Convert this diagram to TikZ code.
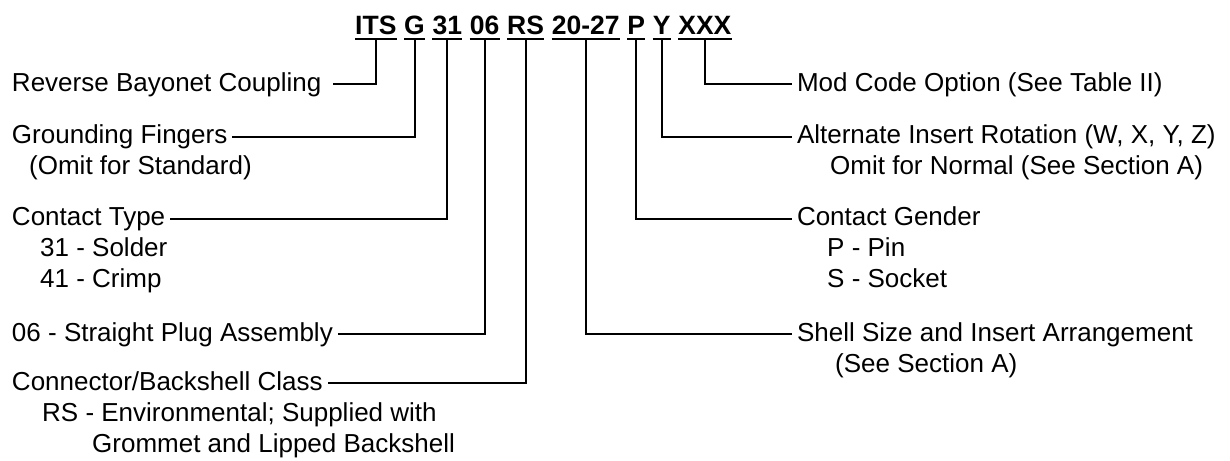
\documentclass[tikz,border=0pt]{standalone}
\usepackage{fontspec}
\setmainfont{Liberation Sans}
\usetikzlibrary{positioning}
\tikzset{
  code/.style={font=\fontsize{26.5}{30}\selectfont\bfseries, inner sep=0pt, text height=19pt, text depth=3.5pt},
  lbl/.style={font=\fontsize{26}{31}\selectfont, inner sep=0pt, text height=19pt, text depth=5pt, outer xsep=5pt, anchor=base west},
  sub/.style={font=\fontsize{26}{31}\selectfont, inner sep=0pt, anchor=base west},
  lead/.style={line width=2pt},
}
\begin{document}
\begin{tikzpicture}[x=1pt,y=-1pt]
  \useasboundingbox (0,0) rectangle (1230,460);

  \node[code, anchor=base west] (its) at (355,35) {ITS};
  \node[code, right=7.4pt of its] (g) {G};
  \node[code, right=7.4pt of g] (c31) {31};
  \node[code, right=7.4pt of c31] (s06) {06};
  \node[code, right=7.4pt of s06] (rs) {RS};
  \node[code, right=7.4pt of rs] (sz) {20-27};
  \node[code, right=7.4pt of sz] (pin) {P};
  \node[code, right=7.4pt of pin] (alt) {Y};
  \node[code, right=7.4pt of alt] (mod) {XXX};
  \foreach \t in {its,g,c31,s06,rs,sz,pin,alt,mod}
    \draw[lead] (\t.south west) -- (\t.south east);

  \node[lbl, outer xsep=12pt] (rev) at (0,91) {Reverse Bayonet Coupling};
  \node[lbl] (gnd) at (7,143.5) {Grounding Fingers};
  \node[sub] (gnd2) at (29,174.5) {(Omit for Standard)};
  \node[lbl] (ctype) at (7,225.5) {Contact Type};
  \node[sub] (ctype2) at (40,256.5) {31 - Solder};
  \node[sub] (ctype3) at (40,287.5) {41 - Crimp};
  \node[lbl] (plug) at (7,341) {06 - Straight Plug Assembly};
  \node[lbl] (cls) at (7,390) {Connector/Backshell Class};
  \node[sub] (cls2) at (42,421) {RS - Environmental; Supplied with};
  \node[sub] (cls3) at (92,452) {Grommet and Lipped Backshell};

  \node[lbl] (modopt) at (792,91) {Mod Code Option (See Table II)};
  \node[lbl] (rot) at (792,143.5) {Alternate Insert Rotation (W, X, Y, Z)};
  \node[sub] (rot2) at (830,174.5) {Omit for Normal (See Section A)};
  \node[lbl] (gender) at (792,225.5) {Contact Gender};
  \node[sub] (gender2) at (827,256.5) {P - Pin};
  \node[sub] (gender3) at (827,287.5) {S - Socket};
  \node[lbl] (shell) at (792,341) {Shell Size and Insert Arrangement};
  \node[sub] (shell2) at (835,372) {(See Section A)};

  \draw[lead] (its.south) |- (rev.east);
  \draw[lead] (g.south) |- (gnd.east);
  \draw[lead] (c31.south) |- (ctype.east);
  \draw[lead] (s06.south) |- (plug.east);
  \draw[lead] (rs.south) |- (cls.east);
  \draw[lead] (mod.south) |- (modopt.west);
  \draw[lead] (alt.south) |- (rot.west);
  \draw[lead] (pin.south) |- (gender.west);
  \draw[lead] (sz.south) |- (shell.west);
\end{tikzpicture}
\end{document}
